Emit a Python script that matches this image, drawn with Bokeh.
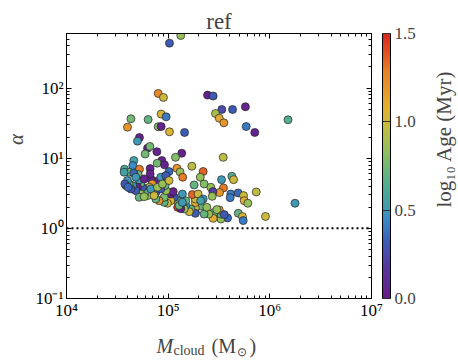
import numpy as np
from bokeh.plotting import figure
from bokeh.layouts import column, row
from bokeh.models import (LogAxis, FixedTicker, Span, Label, ColorBar,
                          LinearColorMapper, ColumnDataSource)
from bokeh.embed import file_html
from bokeh.resources import INLINE

# ---- data ----
mass = [1.33e5, 1.03e5, 2.44e5, 2.77e5, 7.98e4, 8.99e4, 3.37e5, 4.30e5, 5.75e5, 4.30e4,
        6.35e4, 2.92e5, 3.18e5, 3.53e5, 8.53e4, 9.55e4, 3.98e4, 7.98e4, 8.53e4, 1.03e5,
        1.45e5, 5.85e5, 7.11e5, 1.51e6, 5.22e4, 4.99e4, 6.27e4, 6.61e4, 5.94e4, 7.74e4,
        1.36e5, 1.18e5, 3.48e5, 8.67e4, 7.80e4, 9.20e4, 4.59e4, 3.72e4, 4.49e4, 5.22e4,
        6.65e4, 1.02e5, 1.22e5, 1.31e5, 1.39e5, 1.71e5, 2.21e5, 2.07e5, 2.26e5, 1.80e5,
        3.35e5, 4.23e5, 4.40e5, 3.50e5, 3.20e5, 2.63e5, 2.75e5, 2.71e5, 4.13e5, 4.07e5,
        4.88e5, 5.51e5, 5.60e5, 6.08e5, 7.35e5, 1.77e6, 9.06e5, 4.90e5, 5.38e5, 5.47e5,
        3.84e5, 3.30e5, 3.30e5, 3.18e5, 2.83e5, 2.77e5, 2.51e5, 2.26e5, 2.09e5, 2.40e5,
        1.85e5, 1.85e5, 1.85e5, 1.85e5, 1.85e5, 1.67e5, 1.61e5, 1.49e5, 1.49e5, 1.73e5,
        1.44e5, 1.24e5, 1.33e5, 1.24e5, 1.15e5, 1.06e5, 1.06e5, 1.12e5, 9.84e4, 9.14e4,
        9.14e4, 9.55e4, 9.33e4, 9.14e4, 8.15e4, 7.57e4, 7.57e4, 7.40e4, 7.74e4, 6.76e4,
        6.65e4, 6.97e4, 6.55e4, 6.76e4, 6.27e4, 5.94e4, 5.60e4, 5.38e4, 5.19e4, 5.07e4,
        4.99e4, 5.38e4, 4.81e4, 4.46e4, 4.30e4, 4.13e4, 3.98e4, 3.84e4, 3.75e4, 4.05e4,
        4.13e4, 4.59e4, 4.81e4, 5.81e4, 6.76e4, 8.47e4, 7.85e4, 8.47e4, 8.79e4, 3.69e4,
        9.48e4, 1.02e5, 5.19e4, 5.81e4, 7.28e4, 1.38e5, 1.97e5, 2.21e5, 3.01e5, 3.56e5,
        1.28e5, 2.09e5, 1.38e5]
alpha = [562, 437, 79.4, 76.9, 83.9, 73.6, 49.5, 49.5, 54.1, 36.5,
         35.6, 43.4, 37.2, 32.0, 42.6, 38.9, 27.7, 28.1, 28.3, 23.8,
         23.3, 28.3, 23.3, 35.3, 19.7, 17.5, 13.9, 14.7, 11.5, 12.4,
         11.8, 10.3, 10.3, 9.27, 8.49, 8.04, 9.27, 6.97, 7.85, 6.97,
         7.11, 6.46, 7.19, 6.38, 5.36, 7.69, 6.46, 5.36, 4.30, 4.16,
         4.95, 5.53, 4.95, 3.77, 3.24, 3.85, 3.34, 2.86, 3.09, 2.74,
         3.20, 2.93, 2.48, 2.28, 3.30, 2.28, 1.48, 1.64, 1.47, 1.29,
         1.41, 1.36, 1.60, 1.83, 1.69, 1.39, 1.60, 1.60, 2.08, 2.00,
         1.69, 1.95, 2.33, 2.62, 1.64, 1.89, 1.73, 2.11, 2.48, 3.03,
         1.89, 2.00, 1.91, 2.48, 2.77, 2.48, 3.09, 3.34, 2.28, 2.35,
         2.77, 3.45, 4.07, 5.07, 2.48, 2.62, 3.27, 3.94, 4.69, 5.07,
         5.97, 4.30, 3.85, 3.16, 2.93, 3.27, 3.85, 4.40, 4.90, 5.85,
         3.85, 3.09, 3.45, 4.07, 3.65, 4.30, 4.80, 4.07, 4.30, 3.85,
         6.31, 6.11, 5.36, 5.07, 3.65, 3.65, 3.85, 5.36, 4.30, 6.31,
         5.65, 4.80, 2.77, 2.83, 2.93, 3.09, 3.09, 2.62, 1.85, 1.57,
         2.11, 2.48, 2.35]
log_age = [0.85, 0.3, 0.05, 0.3, 1.25, 1.0, 0.25, 0.3, 0.05, 0.75,
           0.7, 0.9, 1.1, 1.2, 1.05, 0.4, 1.2, 0.8, 0.05, 1.05,
           0.3, 0.4, 0.05, 0.65, 0.05, 0.5, 0.05, 0.75, 0.75, 0.05,
           0.05, 0.8, 0.95, 0.05, 0.75, 0.05, 0.55, 0.6, 0.45, 1.3,
           0.05, 0.35, 1.2, 0.85, 1.3, 0.95, 1.35, 0.85, 0.8, 0.7,
           0.5, 0.65, 1.0, 1.3, 1.2, 0.85, 0.2, 0.85, 0.4, 0.4,
           0.35, 1.0, 1.1, 0.85, 0.95, 0.5, 1.0, 0.7, 1.05, 0.4,
           0.35, 0.85, 0.7, 1.2, 0.7, 1.1, 0.85, 0.7, 0.7, 0.85,
           0.85, 1.0, 1.1, 1.0, 0.3, 0.7, 1.0, 0.5, 0.7, 1.35,
           0.85, 1.45, 0.05, 0.7, 0.3, 1.05, 0.05, 0.05, 1.0, 0.7,
           0.75, 0.85, 0.7, 0.05, 1.2, 0.7, 0.3, 0.3, 0.05, 0.05,
           0.05, 1.2, 1.0, 1.0, 0.85, 0.7, 0.3, 0.7, 0.5, 0.75,
           0.05, 0.85, 0.3, 0.5, 0.3, 0.7, 0.5, 1.0, 0.3, 0.35,
           0.7, 0.35, 0.5, 0.05, 0.5, 0.3, 0.85, 0.5, 0.85, 0.55,
           0.3, 1.0, 0.7, 0.85, 1.0, 0.5, 1.0, 0.5, 0.85, 0.3,
           0.7, 0.55, 0.5]

x_ticks = [1e4, 1e5, 1e6, 1e7]
x_tick_labels = ["10⁴", "10⁵", "10⁶", "10⁷"]
y_ticks = [1e-1, 1e0, 1e1, 1e2]
y_tick_labels = ["10⁻¹", "10⁰", "10¹", "10²"]
cbar_ticks = [0.0, 0.5, 1.0, 1.5]
cbar_tick_labels = ["0.0", "0.5", "1.0", "1.5"]

# ---- colormap (purple -> blue -> teal -> green -> yellow -> orange -> red) ----
stops = [0.0, 0.12, 0.22, 0.30, 0.36, 0.45, 0.55, 0.65, 0.72, 0.85, 1.0]
stop_cols = ["#6a1b8a", "#553a9e", "#3a62b8", "#3a8cc8", "#44a0a8", "#5cb088",
             "#8cc060", "#c4bc40", "#e2b032", "#e88428", "#d82820"]
rgb = np.array([[int(c[i:i + 2], 16) for i in (1, 3, 5)] for c in stop_cols])
t = np.linspace(0, 1, 256)
palette = ["#%02x%02x%02x" % tuple(int(round(np.interp(tt, stops, rgb[:, k]))) for k in range(3))
           for tt in t]
mapper = LinearColorMapper(palette=palette, low=0.0, high=1.5)

FONT = "Liberation Serif"

p = figure(x_axis_type="log", y_axis_type="log",
           x_range=(1e4, 1e7), y_range=(1e-1, 6e2),
           width=397, height=326,
           min_border_left=38, min_border_top=33, min_border_right=54, min_border_bottom=28,
           output_backend="svg", toolbar_location=None)
p.xgrid.visible = False
p.ygrid.visible = False
p.outline_line_color = "black"
p.outline_line_width = 1
p.background_fill_color = "white"

p.title.text = "ref"
p.title.align = "center"
p.title.text_font = FONT
p.title.text_font_size = "23px"
p.title.text_font_style = "normal"
p.title.standoff = 0
p.title.offset = -19  # centre the title over the frame, not the whole canvas


def minor_list(lo, hi):
    out = []
    for e in range(lo, hi):
        out += [k * 10.0 ** e for k in range(2, 10)]
    return out


def style_axis(ax, labels=True, standoff=3):
    ax.major_tick_in = 5
    ax.major_tick_out = 0
    ax.minor_tick_in = 3
    ax.minor_tick_out = 0
    ax.axis_line_color = "black"
    ax.major_tick_line_color = "black"
    ax.minor_tick_line_color = "black"
    if labels:
        ax.major_label_text_font = FONT
        ax.major_label_text_font_size = "17px"
        ax.major_label_text_color = "black"
        ax.major_label_standoff = standoff
    else:
        ax.major_label_text_font_size = "1px"
        ax.major_label_text_color = None
        ax.major_label_standoff = 0


p.xaxis.ticker = FixedTicker(ticks=x_ticks, minor_ticks=minor_list(4, 7))
p.yaxis.ticker = FixedTicker(ticks=y_ticks, minor_ticks=minor_list(-1, 3))
p.xaxis.major_label_overrides = dict(zip(x_ticks, x_tick_labels))
p.yaxis.major_label_overrides = dict(zip(y_ticks, y_tick_labels))
style_axis(p.xaxis[0], standoff=2)
style_axis(p.yaxis[0], standoff=3)

top = LogAxis(ticker=FixedTicker(ticks=x_ticks, minor_ticks=minor_list(4, 7)))
style_axis(top, labels=False)
p.add_layout(top, "above")
right = LogAxis(ticker=FixedTicker(ticks=y_ticks, minor_ticks=minor_list(-1, 3)))
style_axis(right, labels=False)
p.add_layout(right, "right")

p.add_layout(Span(location=1.0, dimension="width", line_color="black",
                  line_width=2, line_dash="2 3"))

src = ColumnDataSource(dict(m=mass, a=alpha, age=log_age))
p.scatter("m", "a", source=src, size=8,
          fill_color={"field": "age", "transform": mapper},
          line_color="#222222", line_width=0.7)

cb = ColorBar(color_mapper=mapper, location=(316, 0), width=8, height=265,
              padding=0, margin=0,
              ticker=FixedTicker(ticks=cbar_ticks),
              major_label_overrides=dict(zip(cbar_ticks, cbar_tick_labels)),
              major_label_text_font=FONT, major_label_text_font_size="17px",
              major_tick_line_color="#333333", major_tick_in=8, major_tick_out=0,
              bar_line_color="black", border_line_color=None,
              background_fill_alpha=0, label_standoff=4)
p.add_layout(cb, "center")


# ---- text panels (plain figures whose frame is the whole canvas) ----
def text_panel(w, h):
    f = figure(width=w, height=h, min_border=0, x_range=(0, 1), y_range=(0, 1),
               x_axis_location=None, y_axis_location=None,
               output_backend="svg", toolbar_location=None)
    f.xgrid.visible = False
    f.ygrid.visible = False
    f.outline_line_color = None
    f.border_fill_color = "white"
    return f


ylab_fig = text_panel(28, 326)
ylab_fig.add_layout(Label(x=15, y=159, x_units="screen", y_units="screen", text="α",
                          text_font=FONT, text_font_style="italic", text_font_size="21px",
                          angle=np.pi / 2, text_align="center", text_baseline="middle"))

clab_fig = text_panel(33, 326)
clab_fig.add_layout(Label(x=18, y=159.5, x_units="screen", y_units="screen",
                          text="log₁₀ Age (Myr)",
                          text_font=FONT, text_font_size="21px",
                          angle=np.pi / 2, text_align="center", text_baseline="middle"))

xlab_fig = text_panel(458, 37)
for txt, xx, yy, fs, style in [("M", 156, 18, "20px", "italic"),
                               ("cloud", 173, 13, "14px", "normal"),
                               ("(M", 211, 18, "20px", "normal"),
                               ("⊙", 236, 12, "12px", "normal"),
                               (")", 249, 18, "20px", "normal")]:
    xlab_fig.add_layout(Label(x=xx, y=yy, x_units="screen", y_units="screen", text=txt,
                              text_font=FONT, text_font_size=fs, text_font_style=style,
                              text_align="left", text_baseline="alphabetic"))

layout = column(row(ylab_fig, p, clab_fig), xlab_fig)
open("out.html", "w").write(file_html(layout, INLINE))
